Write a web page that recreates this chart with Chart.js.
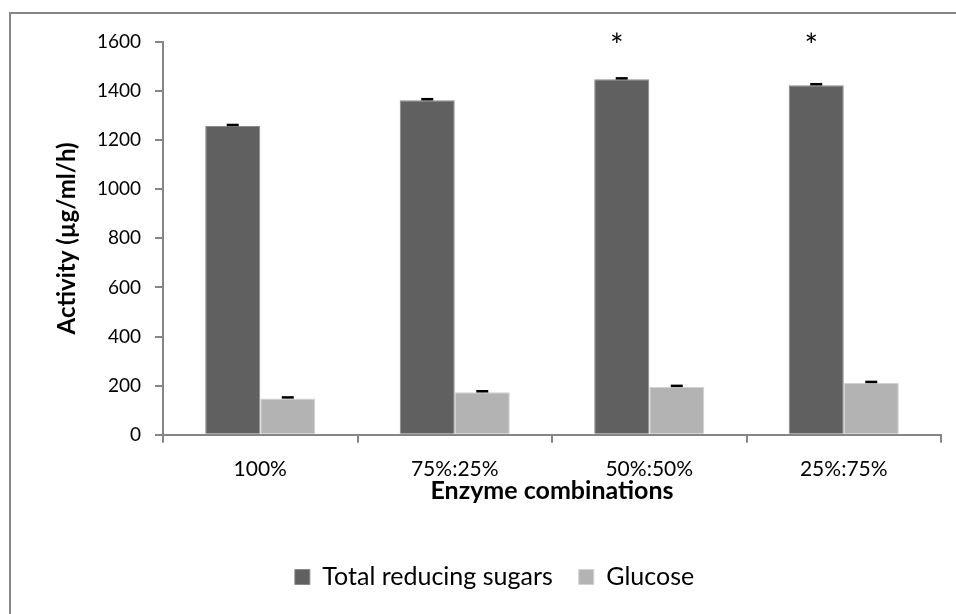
<!DOCTYPE html>
<html>
<head>
<meta charset="utf-8">
<script src="https://cdn.jsdelivr.net/npm/chart.js@4/dist/chart.umd.min.js"></script>
<style>
  html, body { margin: 0; padding: 0; background: #ffffff; }
  #wrap { width: 956px; height: 614px; }
</style>
</head>
<body>
<div id="wrap"><canvas id="c" width="956" height="614"></canvas></div>
<script>
// Enzyme combinations and measured activities (µg/ml/h)
const categories = ['100%', '75%:25%', '50%:50%', '25%:75%'];
const totalReducingSugars = [1258, 1363, 1448, 1424];
const glucose = [148, 173, 195, 211];
const errTotalReducingSugars = [4, 4, 4, 4];
const errGlucose = [4, 4, 4, 4];
const significance = ['', '', '*', '*'];
const yMin = 0, yMax = 1600, yStep = 200;

const FONT = 'Lato, "Open Sans", sans-serif';
const AXIS_GREY = '#868686';

// Outer frame around the whole figure
const framePlugin = {
  id: 'frame',
  beforeDraw(chart) {
    const ctx = chart.ctx;
    ctx.save();
    ctx.fillStyle = '#ffffff';
    ctx.fillRect(0, 0, chart.width, chart.height);
    ctx.strokeStyle = AXIS_GREY;
    ctx.lineWidth = 2;
    ctx.strokeRect(10, 13, chart.width + 20, chart.height + 20);
    ctx.restore();
  }
};

// The legend row sits a little right of the canvas centre
const legendShiftPlugin = {
  id: 'legendShift',
  afterLayout(chart) {
    const lg = chart.legend;
    if (!lg) return;
    lg.left += 24;
    lg.right += 24;
  }
};

// Error bar caps and significance markers
const errorBarPlugin = {
  id: 'errorBars',
  afterDatasetsDraw(chart) {
    const ctx = chart.ctx;
    const y = chart.scales.y;
    const errs = [errTotalReducingSugars, errGlucose];
    ctx.save();
    chart.data.datasets.forEach((ds, di) => {
      const meta = chart.getDatasetMeta(di);
      meta.data.forEach((bar, i) => {
        const v = ds.data[i];
        const top = y.getPixelForValue(v + errs[di][i]);
        const base = y.getPixelForValue(v);
        ctx.strokeStyle = '#000000';
        ctx.lineWidth = 1;
        ctx.beginPath();
        ctx.moveTo(bar.x, base);
        ctx.lineTo(bar.x, top);
        ctx.stroke();
        ctx.lineWidth = 2.5;
        ctx.beginPath();
        ctx.moveTo(bar.x - 6, top);
        ctx.lineTo(bar.x + 6, top);
        ctx.stroke();
      });
    });
    const meta0 = chart.getDatasetMeta(0);
    ctx.fillStyle = '#000000';
    ctx.font = '32px ' + FONT;
    ctx.textAlign = 'center';
    ctx.textBaseline = 'middle';
    significance.forEach((s, i) => {
      if (!s) return;
      const bar = meta0.data[i];
      ctx.fillText(s, bar.x - 5, chart.chartArea.top + 5);
    });
    ctx.restore();
  }
};

new Chart(document.getElementById('c'), {
  type: 'bar',
  data: {
    labels: categories,
    datasets: [
      {
        label: 'Total reducing sugars',
        data: totalReducingSugars,
        backgroundColor: '#606060',
        borderColor: '#8a8a8a',
        borderWidth: 1,
        categoryPercentage: 0.566,
        barPercentage: 1.0
      },
      {
        label: 'Glucose',
        data: glucose,
        backgroundColor: '#b3b3b3',
        borderColor: '#d2d2d2',
        borderWidth: 1,
        categoryPercentage: 0.566,
        barPercentage: 1.0
      }
    ]
  },
  options: {
    responsive: false,
    devicePixelRatio: 1,
    animation: false,
    layout: { padding: { left: 0, top: 42, right: 15, bottom: 14.5 } },
    plugins: {
      tooltip: { enabled: false },
      legend: {
        position: 'bottom',
        labels: {
          boxWidth: 15,
          boxHeight: 15,
          padding: 26,
          color: '#000000',
          font: { family: FONT, size: 25 }
        }
      }
    },
    scales: {
      x: {
        offset: true,
        grid: {
          display: true,
          offset: true,
          drawOnChartArea: false,
          drawTicks: true,
          tickLength: 8,
          color: AXIS_GREY,
          lineWidth: 2
        },
        border: { display: true, color: AXIS_GREY, width: 2 },
        ticks: { color: '#000000', padding: 14, font: { family: FONT, size: 21 } },
        title: {
          display: true,
          text: 'Enzyme combinations',
          color: '#000000',
          font: { family: FONT, size: 25, weight: 'bold' },
          padding: { top: 0, bottom: 33 }
        },
        afterFit(scale) { scale.height = 103.8; }
      },
      y: {
        min: yMin,
        max: yMax,
        ticks: {
          stepSize: yStep,
          color: '#000000',
          padding: 14,
          font: { family: FONT, size: 19 },
          callback: (value) => String(value)
        },
        grid: {
          display: true,
          drawOnChartArea: false,
          drawTicks: true,
          tickLength: 8,
          color: AXIS_GREY,
          lineWidth: 2
        },
        border: { display: true, color: AXIS_GREY, width: 2 },
        title: {
          display: true,
          text: 'Activity (µg/ml/h)',
          color: '#000000',
          font: { family: FONT, size: 24, weight: 'bold' },
          padding: { top: 52.6, bottom: 0 }
        },
        afterFit(scale) { scale.width = 163; }
      }
    }
  },
  plugins: [framePlugin, legendShiftPlugin, errorBarPlugin]
});
</script>
</body>
</html>
